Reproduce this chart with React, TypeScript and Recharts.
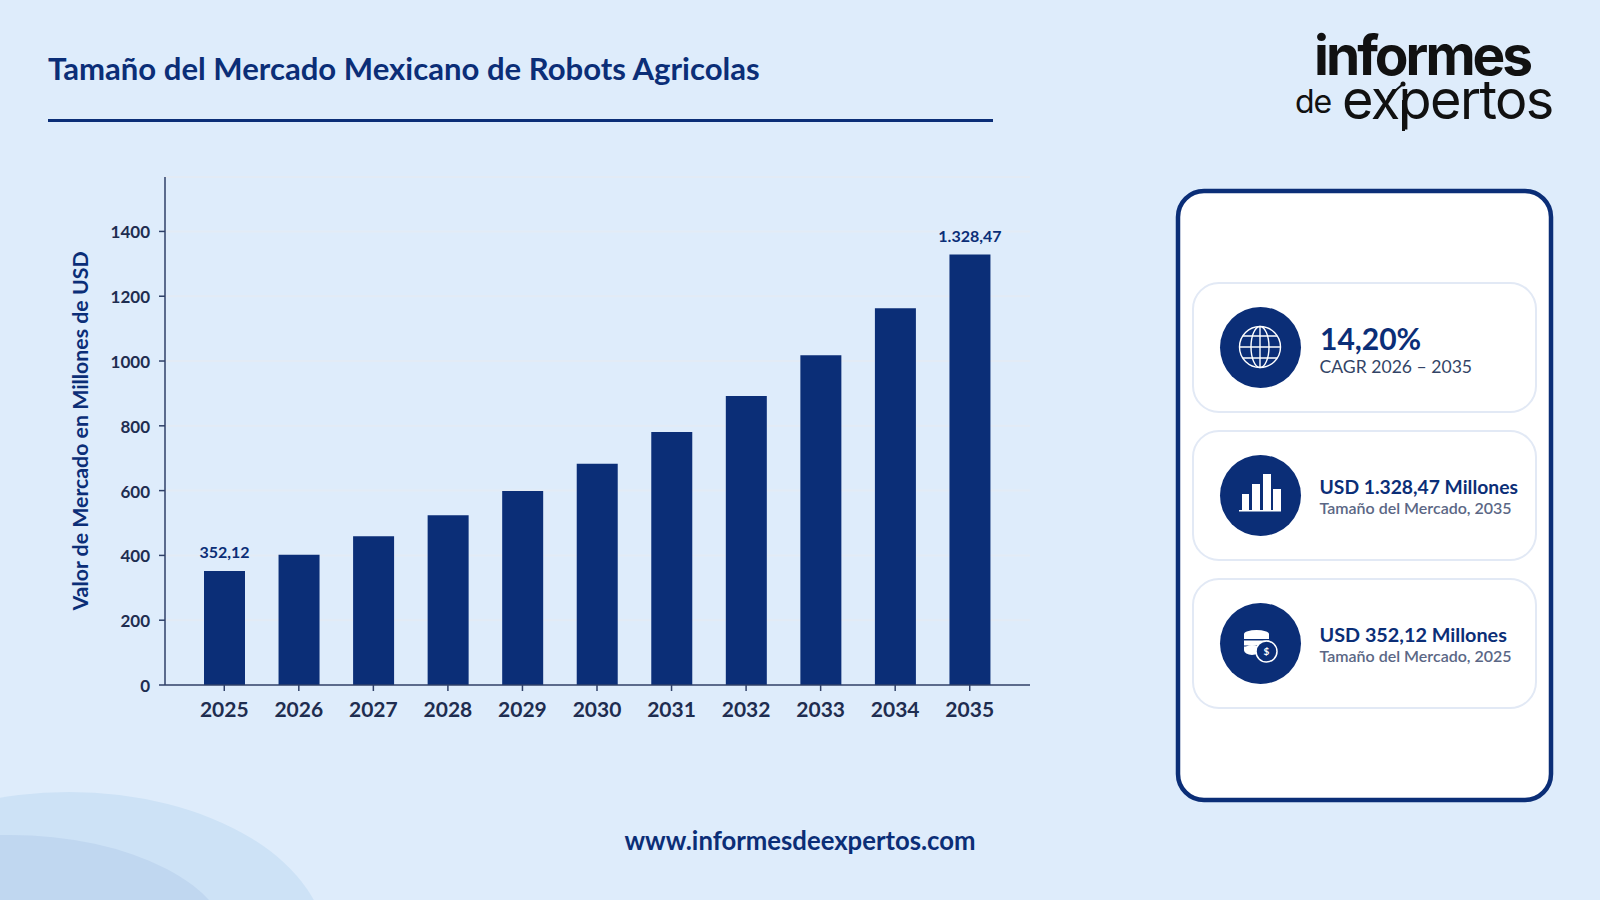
import { BarChart, Bar, XAxis, YAxis, CartesianGrid, LabelList } from "recharts";

const YEARS = ["2025", "2026", "2027", "2028", "2029", "2030", "2031", "2032", "2033", "2034", "2035"];
const MARKET_VALUES = [352.12, 402, 459, 524, 599, 683, 781, 892, 1018, 1163, 1328.47];
const BAR_LABELS = ["352,12", "", "", "", "", "", "", "", "", "", "1.328,47"];
const Y_TICKS = [0, 200, 400, 600, 800, 1000, 1200, 1400];

const chartData = YEARS.map((year, i) => ({
  year,
  value: MARKET_VALUES[i],
  label: BAR_LABELS[i],
}));

const NAVY = "#0b2e77";
const AXIS = "#2f4068";
const TICK_TEXT = "#1e2d50";
const FONT = "Lato, sans-serif";

function GlobeIcon() {
  return (
    <g fill="none" stroke="#fff" strokeWidth="1.4">
      <circle cx="1260" cy="347" r="20.5" />
      <ellipse cx="1260" cy="347" rx="9" ry="20.5" />
      <line x1="1260" y1="326.5" x2="1260" y2="367.5" />
      <line x1="1239.5" y1="347" x2="1280.5" y2="347" />
      <line x1="1243" y1="336" x2="1277" y2="336" />
      <line x1="1243" y1="358" x2="1277" y2="358" />
    </g>
  );
}

function BarsIcon() {
  return (
    <g fill="#fff">
      <rect x="1242" y="494" width="7" height="16" />
      <rect x="1252" y="484" width="8" height="26" />
      <rect x="1263" y="474" width="8" height="36" />
      <rect x="1273" y="489" width="8" height="21" />
      <rect x="1239" y="510" width="42" height="1.5" />
    </g>
  );
}

function CoinsIcon() {
  return (
    <g>
      <ellipse cx="1256.5" cy="634" rx="12.5" ry="4" fill="#fff" />
      <rect x="1244" y="634" width="25" height="5" fill="#fff" />
      <rect x="1244" y="640.5" width="25" height="5" fill="#fff" />
      <ellipse cx="1252" cy="650" rx="8" ry="5" fill="#fff" />
      <rect x="1244" y="646.5" width="18" height="4" fill="#fff" />
      <circle cx="1266.5" cy="651.5" r="10.5" fill={NAVY} stroke="#fff" strokeWidth="1.5" />
      <text x="1266.5" y="655" textAnchor="middle" fontSize="10" fontWeight="700" fill="#fff" fontFamily={FONT}>
        $
      </text>
    </g>
  );
}

function StatCard({ top, height, children }: { top: number; height: number; children: React.ReactNode }) {
  return (
    <g>
      <rect x="1193" y={top} width="343" height={height} rx="26" fill="#fff" stroke="#e2e9f5" strokeWidth="2" />
      <circle cx="1260.5" cy={top + height / 2} r="40.5" fill={NAVY} />
      {children}
    </g>
  );
}

export default function App() {
  return (
    <div
      style={{
        position: "absolute",
        left: 0,
        top: 0,
        width: 1600,
        height: 900,
        overflow: "hidden",
        background: "#deecfb",
        fontFamily: FONT,
      }}
    >
      <svg width={1600} height={900} style={{ position: "absolute", left: 0, top: 0 }}>
        <ellipse cx="69" cy="950" rx="258" ry="158" fill="#cde2f6" />
        <ellipse cx="10" cy="950" rx="221" ry="115" fill="#c0d7f0" />

        <text x="48" y="80" fontSize="31.1" fontWeight="700" fill={NAVY} fontFamily={FONT}>
          Tamaño del Mercado Mexicano de Robots Agricolas
        </text>
        <rect x="48" y="119" width="945" height="3" fill={NAVY} />

        {/* logo */}
        <text x="1314" y="75" fontSize="55" fontWeight="700" letterSpacing="-3" fill="#111" fontFamily="Inter, sans-serif">
          informes
        </text>
        <text x="1295" y="113" fontSize="32" fontWeight="400" letterSpacing="-1" fill="#111" fontFamily="Inter, sans-serif">
          de
        </text>
        <text x="1342" y="119" fontSize="54" fontWeight="400" letterSpacing="-1.6" fill="#111" fontFamily="Inter, sans-serif">
          expertos
        </text>
        <line x1="1388" y1="97" x2="1403" y2="84" stroke="#111" strokeWidth="2" />
        <circle cx="1403" cy="84" r="2.5" fill="#111" />
        <rect x="1402" y="100" width="3" height="31" fill="#111" />

        {/* side panel */}
        <rect x="1178" y="191" width="373" height="609" rx="26" fill="#fff" stroke={NAVY} strokeWidth="4.5" />

        <StatCard top={283} height={129}>
          <GlobeIcon />
          <text x="1320" y="350" fontSize="30" fontWeight="700" fill={NAVY} fontFamily={FONT}>
            14,20%
          </text>
          <text x="1319.5" y="373" fontSize="17.6" fontWeight="400" fill="#334466" fontFamily={FONT}>
            CAGR 2026 – 2035
          </text>
        </StatCard>

        <StatCard top={431} height={129}>
          <BarsIcon />
          <text x="1319.5" y="494" fontSize="19.3" fontWeight="700" fill={NAVY} fontFamily={FONT}>
            USD 1.328,47 Millones
          </text>
          <text x="1319.5" y="514" fontSize="16" fontWeight="600" fill="#5b6785" fontFamily={FONT}>
            Tamaño del Mercado, 2035
          </text>
        </StatCard>

        <StatCard top={579} height={129}>
          <CoinsIcon />
          <text x="1319.5" y="642" fontSize="19.8" fontWeight="700" fill={NAVY} fontFamily={FONT}>
            USD 352,12 Millones
          </text>
          <text x="1319.5" y="662" fontSize="16" fontWeight="600" fill="#5b6785" fontFamily={FONT}>
            Tamaño del Mercado, 2025
          </text>
        </StatCard>

        <text x="800" y="850" textAnchor="middle" fontSize="25.7" fontWeight="700" fill={NAVY} fontFamily={FONT}>
          www.informesdeexpertos.com
        </text>
      </svg>

      <div style={{ position: "absolute", left: 0, top: 0 }}>
        <BarChart
          width={1100}
          height={900}
          data={chartData}
          margin={{ top: 177, right: 70, bottom: 0, left: 65 }}
        >
          <CartesianGrid horizontal vertical={false} stroke="#e3ebf5" strokeWidth={2} />
          <XAxis
            dataKey="year"
            height={215}
            interval={0}
            padding={{ left: 22, right: 23 }}
            tickSize={6}
            tickMargin={8}
            axisLine={{ stroke: AXIS, strokeWidth: 1.5 }}
            tickLine={{ stroke: AXIS, strokeWidth: 1.5 }}
            tick={{ fontSize: 21, fontWeight: 700, fill: TICK_TEXT, fontFamily: FONT, dy: 3 }}
          />
          <YAxis
            width={100}
            domain={[0, 1568]}
            ticks={Y_TICKS}
            interval={0}
            tickSize={6}
            tickMargin={9}
            axisLine={{ stroke: AXIS, strokeWidth: 1.5 }}
            tickLine={{ stroke: AXIS, strokeWidth: 1.5 }}
            tick={{ fontSize: 17, fontWeight: 700, fill: TICK_TEXT, fontFamily: FONT, dy: 1 }}
            label={{
              value: "Valor de Mercado en Millones de USD",
              angle: -90,
              position: "insideLeft",
              dx: 10,
              style: { textAnchor: "middle", fontSize: 21.3, fontWeight: 700, fill: NAVY, fontFamily: FONT },
            }}
          />
          <Bar dataKey="value" fill={NAVY} barSize={41} isAnimationActive={false}>
            <LabelList
              dataKey="label"
              position="top"
              offset={13}
              style={{ fontSize: 16, fontWeight: 700, fill: NAVY, fontFamily: FONT }}
            />
          </Bar>
        </BarChart>
      </div>
    </div>
  );
}
